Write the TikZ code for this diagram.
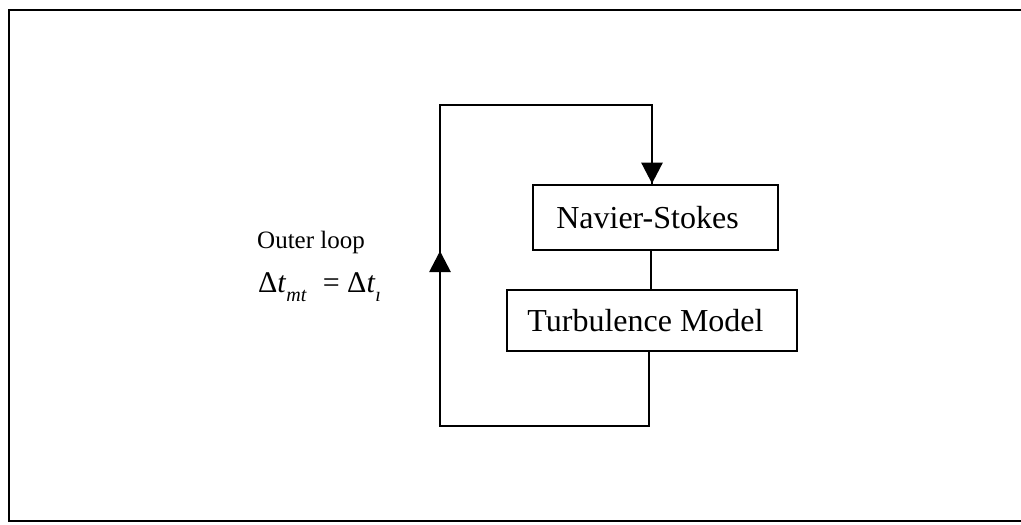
\documentclass[tikz,border=0pt]{standalone}
\usepackage{fontspec}
\setmainfont{Liberation Serif}
\usetikzlibrary{arrows.meta}
\tikzset{
  ln/.style={line width=2.8pt},
  box/.style={draw, line width=2.8pt, inner sep=0pt, font=\fontsize{32}{38}\selectfont},
  lbl/.style={inner sep=0pt, anchor=base west, font=\fontsize{25}{30}\selectfont},
  tip/.style={-{Triangle[length=21pt,width=21pt]}}
}
\begin{document}
\begin{tikzpicture}[x=1pt,y=-1pt]
\useasboundingbox (0,0) rectangle (1021,525);
% frame
\draw[ln] (1021,10) -- (9,10) -- (9,521) -- (1021,521);
% boxes
\node[box, minimum width=245pt, minimum height=65pt] (ns) at (655.5,217.5) {Navier-Stokes\kern16pt\relax};
\node[box, minimum width=290pt, minimum height=61pt] (tm) at (652,320.5) {Turbulence Model\kern13pt\relax};
% connectors
\coordinate (bo) at (649,426);
\coordinate (bl) at (440,426);
\coordinate (tl) at (440,105);
\coordinate (tr) at (652,105);
\draw[ln] (ns.south -| 651,0) -- (tm.north -| 651,0);
\draw[ln] (tm.south -| bo) -- (bo) -- (bl) -- (tl) -- (tr) -- (tr |- ns.north);
\draw[ln, tip] (tr) -- (tr |- ns.north);
\coordinate (am) at (440,272);
\coordinate (at) at (440,251);
\draw[ln, tip] (am) -- (at);
% labels
\node[lbl] (ol) at (257,248) {Outer loop};
\node[lbl, font=\fontsize{30}{34}\selectfont] (eq) at (258,292) {Δ\textit{t}\raisebox{-9pt}{\fontsize{20}{22}\selectfont\textit{mt}}\hspace{16pt}= Δ\textit{t}\raisebox{-9pt}{\fontsize{20}{22}\selectfont\textit{ı}}};
\end{tikzpicture}
\end{document}
